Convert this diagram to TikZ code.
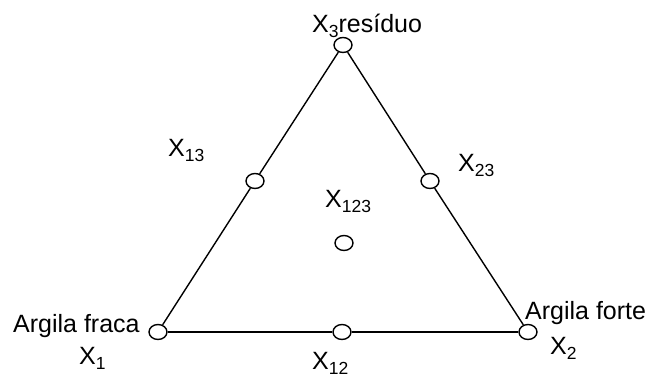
\documentclass[tikz,border=0pt]{standalone}
\usepackage{fontspec}
\setmainfont{Liberation Sans}
\usepackage{tikz}
\usetikzlibrary{shapes.geometric}
\newcommand{\idx}[1]{\raisebox{-4.5pt}{\fontsize{17.5}{17.5}\selectfont #1}}

\begin{document}
\begin{tikzpicture}[x=1pt,y=-1pt,
  mixpt/.style={ellipse,draw=black,fill=white,line width=1.4pt,
                minimum width=18pt,minimum height=15pt,inner sep=0pt},
  side/.style={black,line width=1.4pt},
  lbl/.style={anchor=base west,inner sep=0pt,font=\fontsize{25}{29}\selectfont}
]
\useasboundingbox (0,0) rectangle (654,379);
% design points
\foreach \x/\y/\k in {
  343/45/3, 158/332/1, 528/332/2,
  255/181/13, 430/181/23, 342/332/12, 344/243/123
} {
  \node[mixpt] (x\k) at (\x,\y) {};
}
% triangle sides
\draw[side] (x3) -- (x13) -- (x1);
\draw[side] (x3) -- (x23) -- (x2);
\draw[side] (x1) -- (x12) -- (x2);
% labels
\node[lbl] (l3) at (312,33) {X\idx{3}resíduo};
\node[lbl] (lfraca) at (13,333) {Argila fraca};
\node[lbl] (l1) at (79,365) {X\idx{1}};
\node[lbl] (lforte) at (525,320) {Argila forte};
\node[lbl] (l2) at (550,355) {X\idx{2}};
\node[lbl] (l13) at (168,157) {X\idx{13}};
\node[lbl] (l23) at (458,172) {X\idx{23}};
\node[lbl] (l123) at (325,208) {X\idx{123}};
\node[lbl] (l12) at (312,370) {X\idx{12}};
\end{tikzpicture}
\end{document}
